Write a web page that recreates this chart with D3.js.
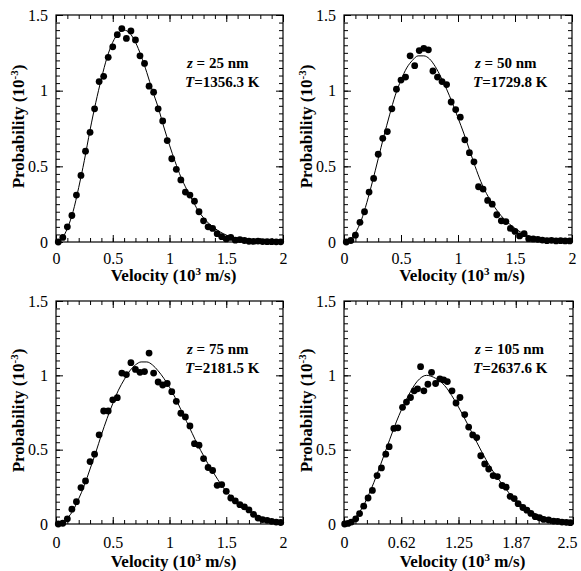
<!DOCTYPE html>
<html>
<head>
<meta charset="utf-8">
<script src="https://cdn.jsdelivr.net/npm/d3@7"></script>
<style>
body { margin: 0; background: #fff; }
svg { display: block; }
text { font-family: "Liberation Serif", "Times New Roman", serif; fill: #000; }
</style>
</head>
<body>
<svg id="chart" width="581" height="571"></svg>
<script>
// bin centres of the histograms (10^3 m/s)
const binX = [0.02,0.06,0.10,0.14,0.18,0.22,0.26,0.30,0.34,0.38,0.42,0.46,0.50,0.54,0.58,0.62,0.66,0.70,0.74,0.78,
    0.82,0.86,0.90,0.94,0.98,1.02,1.06,1.10,1.14,1.18,1.22,1.26,1.30,1.34,1.38,1.42,1.46,1.50,1.54,1.58,
    1.62,1.66,1.70,1.74,1.78,1.82,1.86,1.90,1.94,1.98];

const prob25 = [0.00,0.03,0.10,0.175,0.31,0.44,0.60,0.725,0.88,1.06,
    1.095,1.22,1.29,1.37,1.41,1.345,1.395,1.335,1.23,1.18,
    1.03,0.99,0.88,0.80,0.67,0.55,0.48,0.41,0.33,0.31,
    0.27,0.20,0.14,0.10,0.09,0.055,0.035,0.02,0.03,0.012,
    0.016,0.01,0.005,0.004,0.006,0.003,0.002,0.002,0.001,0.001];

const prob50 = [0.00,0.01,0.045,0.13,0.20,0.33,0.42,0.58,0.685,0.73,
    0.88,1.01,1.07,1.09,1.23,1.165,1.265,1.28,1.27,1.13,
    1.09,1.06,1.04,0.925,0.875,0.825,0.675,0.59,0.53,0.365,
    0.35,0.275,0.25,0.18,0.14,0.135,0.09,0.07,0.04,0.055,
    0.022,0.02,0.018,0.013,0.009,0.011,0.007,0.009,0.007,0.007];

const prob75 = [0.00,0.005,0.035,0.10,0.15,0.245,0.29,0.42,0.47,0.60,
    0.76,0.76,0.835,0.85,1.015,1.005,1.085,1.04,1.02,1.025,
    1.15,1.015,0.955,0.935,0.945,0.89,0.825,0.745,0.72,0.66,
    0.54,0.53,0.44,0.38,0.36,0.26,0.265,0.22,0.175,0.155,
    0.13,0.115,0.095,0.065,0.04,0.03,0.025,0.018,0.013,0.01];

const vel105 = [0.007,0.044,0.08,0.128,0.17,0.215,0.263,0.31,0.361,0.409,
    0.456,0.493,0.544,0.588,0.639,0.682,0.726,0.766,0.803,0.836,
    0.872,0.916,0.956,1.0,1.047,1.088,1.128,1.179,1.223,1.266,
    1.318,1.361,1.405,1.449,1.493,1.536,1.58,1.628,1.675,1.726,
    1.77,1.814,1.858,1.901,1.953,1.996,2.04,2.088,2.135,2.179,
    2.234,2.288,2.332,2.38,2.427,2.471];
const prob105 = [0.00,0.004,0.013,0.035,0.07,0.12,0.175,0.226,0.326,0.377,
    0.47,0.52,0.643,0.647,0.785,0.82,0.851,0.896,0.909,1.058,
    0.896,0.94,1.02,0.945,0.976,0.969,0.958,0.896,0.814,0.851,
    0.736,0.652,0.599,0.581,0.459,0.404,0.37,0.326,0.319,0.259,
    0.248,0.186,0.171,0.137,0.111,0.093,0.071,0.049,0.042,0.031,
    0.027,0.02,0.018,0.013,0.011,0.009];

// fitted curves
const fitX = [0,0.05,0.1,0.15,0.2,0.25,0.3,0.35,0.4,0.45,0.5,0.55,0.6,0.65,0.7,0.75,0.8,0.85,0.9,0.95,
    1,1.05,1.1,1.15,1.2,1.25,1.3,1.35,1.4,1.45,1.5,1.55,1.6,1.65,1.7,1.75,1.8,1.85,1.9,1.95,2];
const fit25 = [0,0.02,0.09,0.20,0.36,0.54,0.74,0.92,1.08,1.22,1.32,1.38,1.40,1.38,1.32,1.23,1.12,1.00,0.89,0.76,
    0.64,0.53,0.43,0.35,0.28,0.21,0.16,0.12,0.09,0.065,0.046,0.032,0.022,0.015,0.01,0.006,0.004,0.003,0.002,0.001,0.001];
const fit50 = [0,0.015,0.06,0.14,0.26,0.40,0.55,0.70,0.84,0.97,1.07,1.15,1.20,1.23,1.23,1.21,1.16,1.09,1.01,0.92,
    0.82,0.72,0.61,0.50,0.40,0.32,0.255,0.20,0.155,0.12,0.09,0.065,0.047,0.033,0.023,0.016,0.011,0.007,0.005,0.003,0.002];
const fit75 = [0,0.01,0.04,0.09,0.17,0.26,0.37,0.48,0.60,0.71,0.81,0.90,0.97,1.03,1.07,1.09,1.09,1.07,1.03,0.98,
    0.92,0.85,0.77,0.69,0.61,0.53,0.46,0.39,0.33,0.27,0.22,0.18,0.14,0.11,0.085,0.065,0.048,0.036,0.026,0.019,0.013];
const fitX105 = [0,0.1,0.2,0.3,0.4,0.5,0.6,0.7,0.8,0.9,1.0,1.1,1.2,1.3,1.4,1.5,1.6,1.7,1.8,1.9,2.0,2.1,2.2,2.3,2.4,2.5];
const fit105 = [0,0.03,0.11,0.24,0.40,0.57,0.73,0.86,0.96,1.00,0.98,0.93,0.84,0.73,0.61,0.49,0.38,0.29,0.21,0.15,
    0.10,0.065,0.042,0.026,0.016,0.01];

const yTicks = [0, 0.5, 1, 1.5];
const yTickLabels = ["0", "0.5", "1", "1.5"];
const xTicks = [0, 0.5, 1, 1.5, 2];
const xTickLabels = ["0", "0.5", "1", "1.5", "2"];
const xTicks105 = [0, 0.625, 1.25, 1.875, 2.5];
const xTickLabels105 = ["0", "0.62", "1.25", "1.87", "2.5"];

const depths = ["25", "50", "75", "105"];
const temps = ["1356.3", "1729.8", "2181.5", "2637.6"];

const panels = [
    { left: 56, top: 15, w: 227, h: 227, xs: binX, ys: prob25, fx: fitX, fy: fit25, xMax: 2, xt: xTicks, xl: xTickLabels, minor: 0.1, pad: 11, tOff: 39 },
    { left: 344, top: 15, w: 228, h: 227, xs: binX, ys: prob50, fx: fitX, fy: fit50, xMax: 2, xt: xTicks, xl: xTickLabels, minor: 0.1, pad: 11, tOff: 39 },
    { left: 56, top: 301, w: 227, h: 223, xs: binX, ys: prob75, fx: fitX, fy: fit75, xMax: 2, xt: xTicks, xl: xTickLabels, minor: 0.1, pad: 13, tOff: 43 },
    { left: 344, top: 301, w: 229, h: 223, xs: vel105, ys: prob105, fx: fitX105, fy: fit105, xMax: 2.5, xt: xTicks105, xl: xTickLabels105, minor: 0.125, pad: 13, tOff: 43 }
];

const svg = d3.select("#chart");

panels.forEach((p, k) => {
    const g = svg.append("g").attr("transform", `translate(${p.left},${p.top})`);
    const x = d3.scaleLinear().domain([0, p.xMax]).range([0, p.w]);
    const y = d3.scaleLinear().domain([0, 1.5]).range([p.h, 0]);

    const minorX = d3.range(0, p.xMax + 1e-9, p.minor);
    const minorY = d3.range(0, 1.5 + 1e-9, 0.05);

    // minor ticks on all four sides, pointing inwards
    g.append("g").attr("transform", `translate(0,${p.h})`)
        .call(d3.axisBottom(x).tickValues(minorX).tickSize(-4).tickFormat(""));
    g.append("g")
        .call(d3.axisTop(x).tickValues(minorX).tickSize(-4).tickFormat(""));
    g.append("g")
        .call(d3.axisLeft(y).tickValues(minorY).tickSize(-4).tickFormat(""));
    g.append("g").attr("transform", `translate(${p.w},0)`)
        .call(d3.axisRight(y).tickValues(minorY).tickSize(-4).tickFormat(""));

    // major ticks with labels
    g.append("g").attr("class", "xmaj").attr("transform", `translate(0,${p.h})`)
        .call(d3.axisBottom(x).tickValues(p.xt).tickSize(-7).tickPadding(p.pad)
            .tickFormat((d, i) => p.xl[i]));
    g.append("g")
        .call(d3.axisTop(x).tickValues(p.xt).tickSize(-7).tickFormat(""));
    g.append("g").attr("class", "ymaj")
        .call(d3.axisLeft(y).tickValues(yTicks).tickSize(-7).tickPadding(8)
            .tickFormat((d, i) => yTickLabels[i]));
    g.append("g").attr("transform", `translate(${p.w},0)`)
        .call(d3.axisRight(y).tickValues(yTicks).tickSize(-7).tickFormat(""));

    g.selectAll(".domain").remove();
    g.selectAll(".tick line").attr("stroke", "#000").attr("stroke-width", 1);
    g.selectAll(".tick text")
        .style("font-family", '"Liberation Serif", serif')
        .style("font-size", "16px")
        .attr("fill", "#000");
    // the last label of the wide axis sits against the page edge
    if (p.xMax > 2) {
        g.selectAll(".xmaj .tick text").filter((d, i) => i === p.xt.length - 1).attr("dx", -6);
    }

    // frame
    g.append("rect")
        .attr("x", 0).attr("y", 0)
        .attr("width", p.w).attr("height", p.h)
        .attr("fill", "none").attr("stroke", "#000").attr("stroke-width", 1.2);

    // fitted curve
    const line = d3.line()
        .x(d => x(d[0]))
        .y(d => y(d[1]))
        .curve(d3.curveMonotoneX);
    g.append("path")
        .datum(p.fx.map((v, i) => [v, p.fy[i]]))
        .attr("d", line)
        .attr("fill", "none")
        .attr("stroke", "#000")
        .attr("stroke-width", 1);

    // histogram points
    g.selectAll(".pt")
        .data(p.xs.map((v, i) => [v, p.ys[i]]))
        .enter().append("circle")
        .attr("class", "pt")
        .attr("cx", d => x(d[0]))
        .attr("cy", d => y(d[1]))
        .attr("r", 3.4)
        .attr("fill", "#000");

    // axis titles
    const xt = g.append("text")
        .attr("x", p.w / 2 + 4)
        .attr("y", p.h + p.tOff)
        .attr("text-anchor", "middle")
        .style("font-size", "17px")
        .style("font-weight", "bold");
    xt.append("tspan").text("Velocity (10");
    xt.append("tspan").attr("dy", "-6").style("font-size", "11px").text("3");
    xt.append("tspan").attr("dy", "6").text(" m/s)");

    const yt = g.append("text")
        .attr("transform", `translate(${-32},${p.h / 2 - 2}) rotate(-90)`)
        .attr("text-anchor", "middle")
        .style("font-size", "17px")
        .style("font-weight", "bold");
    yt.append("tspan").text("Probability (10");
    yt.append("tspan").attr("dy", "-6").style("font-size", "11px").text("-3");
    yt.append("tspan").attr("dy", "6").text(")");

    // annotation
    const a1 = g.append("text")
        .attr("x", 131).attr("y", 53)
        .style("font-size", "15px")
        .style("font-weight", "bold");
    a1.append("tspan").style("font-style", "italic").text("z");
    a1.append("tspan").text(" = " + depths[k] + " nm");

    const a2 = g.append("text")
        .attr("x", 129).attr("y", 72)
        .style("font-size", "15px")
        .style("font-weight", "bold");
    a2.append("tspan").style("font-style", "italic").text("T");
    a2.append("tspan").text("=" + temps[k] + " K");
});
</script>
</body>
</html>
